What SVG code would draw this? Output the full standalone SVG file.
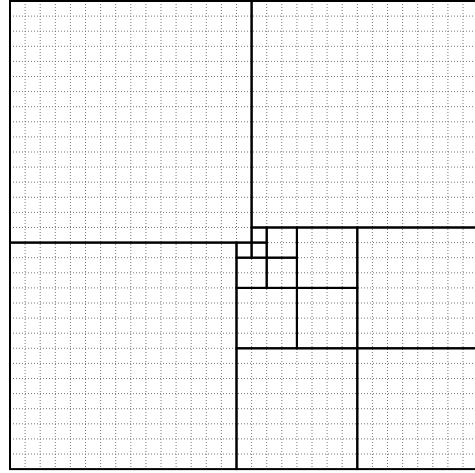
<svg xmlns="http://www.w3.org/2000/svg" width="475" height="473" viewBox="0 0 475 473">
<style>
.grid{fill:none;stroke:#777;stroke-width:1;stroke-dasharray:1 2}
.sq{fill:none;stroke:#000;stroke-width:2}
</style>
<rect x="0" y="0" width="475" height="473" fill="#fff"/>
<g id="grid">
<path class="grid" d="M25.1 1V469.1M40.2 1V469.1M55.3 1V469.1M70.4 1V469.1M85.5 1V469.1M100.6 1V469.1M115.7 1V469.1M130.8 1V469.1M145.9 1V469.1M161 1V469.1M176.1 1V469.1M191.2 1V469.1M206.3 1V469.1M221.4 1V469.1M236.5 1V469.1M251.6 1V469.1M266.7 1V469.1M281.8 1V469.1M296.9 1V469.1M312 1V469.1M327.1 1V469.1M342.2 1V469.1M357.3 1V469.1M372.4 1V469.1M387.5 1V469.1M402.6 1V469.1M417.7 1V469.1M432.8 1V469.1M447.9 1V469.1M463 1V469.1"/>
<path class="grid" d="M10 16.1H478M10 31.2H478M10 46.3H478M10 61.4H478M10 76.5H478M10 91.6H478M10 106.7H478M10 121.8H478M10 136.9H478M10 152H478M10 167.1H478M10 182.2H478M10 197.3H478M10 212.4H478M10 227.5H478M10 242.6H478M10 257.7H478M10 272.8H478M10 287.9H478M10 303H478M10 318.1H478M10 333.2H478M10 348.3H478M10 363.4H478M10 378.5H478M10 393.6H478M10 408.7H478M10 423.8H478M10 438.9H478M10 454H478"/>
</g>
<g id="squares">
<g id="sq16"><rect class="sq" x="10" y="1" width="241.6" height="241.6"/></g>
<g id="sq15a"><rect class="sq" x="251.6" y="1" width="226.5" height="226.5"/></g>
<g id="sq15b"><rect class="sq" x="10" y="242.6" width="226.5" height="226.5"/></g>
<g id="sq8a"><rect class="sq" x="357.3" y="348.3" width="120.8" height="120.8"/></g>
<g id="sq8b"><rect class="sq" x="236.5" y="348.3" width="120.8" height="120.8"/></g>
<g id="sq8c"><rect class="sq" x="357.3" y="227.5" width="120.8" height="120.8"/></g>
<g id="sq4a"><rect class="sq" x="296.9" y="227.5" width="60.4" height="60.4"/></g>
<g id="sq4b"><rect class="sq" x="296.9" y="287.9" width="60.4" height="60.4"/></g>
<g id="sq4c"><rect class="sq" x="236.5" y="287.9" width="60.4" height="60.4"/></g>
<g id="sq2a"><rect class="sq" x="266.7" y="227.5" width="30.2" height="30.2"/></g>
<g id="sq2b"><rect class="sq" x="266.7" y="257.7" width="30.2" height="30.2"/></g>
<g id="sq2c"><rect class="sq" x="236.5" y="257.7" width="30.2" height="30.2"/></g>
<g id="sq1a"><rect class="sq" x="251.6" y="227.5" width="15.1" height="15.1"/></g>
<g id="sq1b"><rect class="sq" x="251.6" y="242.6" width="15.1" height="15.1"/></g>
<g id="sq1c"><rect class="sq" x="236.5" y="242.6" width="15.1" height="15.1"/></g>
</g>
</svg>
